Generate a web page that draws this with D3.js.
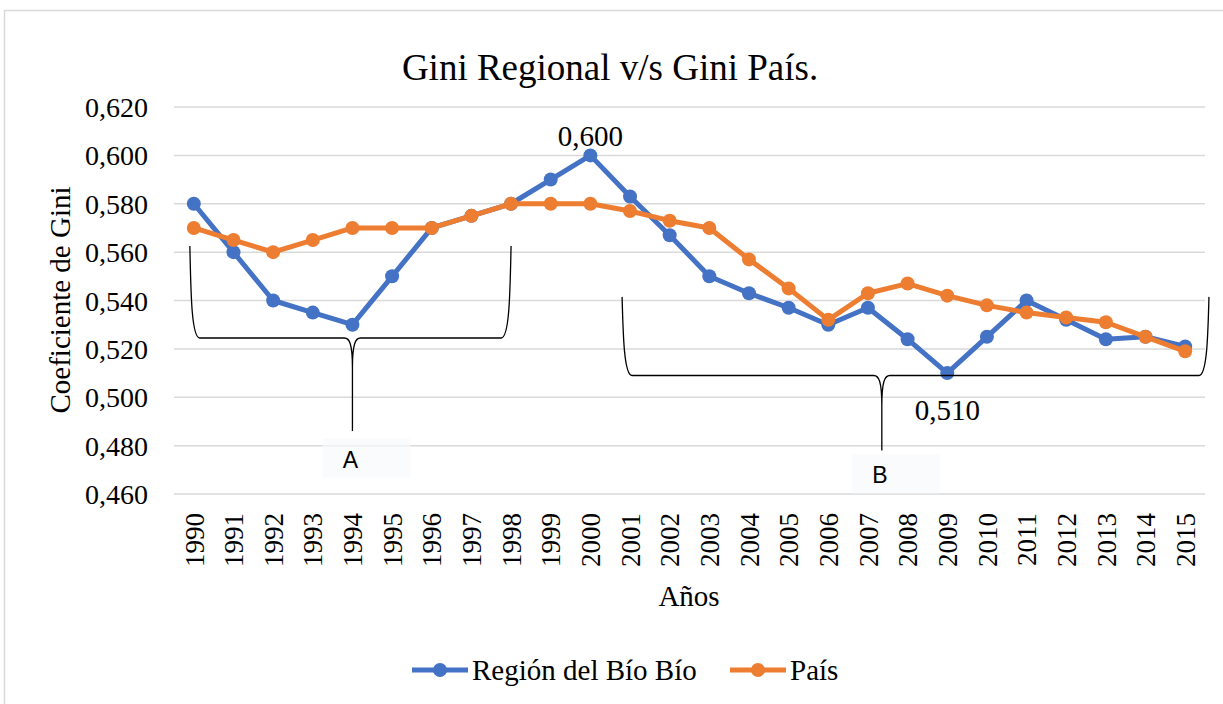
<!DOCTYPE html>
<html>
<head>
<meta charset="utf-8">
<script src="https://cdn.jsdelivr.net/npm/d3@7"></script>
<style>
  body { margin: 0; background: #fff; }
  svg { display: block; }
  text { font-family: "Liberation Serif", "Times New Roman", serif; fill: #000; }
</style>
</head>
<body>
<svg width="1223" height="704"></svg>
<script>
const years = [1990, 1991, 1992, 1993, 1994, 1995, 1996, 1997, 1998, 1999, 2000, 2001, 2002,
  2003, 2004, 2005, 2006, 2007, 2008, 2009, 2010, 2011, 2012, 2013, 2014, 2015];
const region = [0.580, 0.560, 0.540, 0.535, 0.530, 0.550, 0.570, 0.575, 0.580, 0.590, 0.600, 0.583, 0.567,
  0.550, 0.543, 0.537, 0.530, 0.537, 0.524, 0.510, 0.525, 0.540, 0.532, 0.524, 0.525, 0.521];
const pais = [0.570, 0.565, 0.560, 0.565, 0.570, 0.570, 0.570, 0.575, 0.580, 0.580, 0.580, 0.577, 0.573,
  0.570, 0.557, 0.545, 0.532, 0.543, 0.547, 0.542, 0.538, 0.535, 0.533, 0.531, 0.525, 0.519];
const yTicks = [0.46, 0.48, 0.50, 0.52, 0.54, 0.56, 0.58, 0.60, 0.62];
// labelled points: [year, value, text]
const labelled = [[2000, 0.600, "0,600"], [2009, 0.510, "0,510"]];
// braces drawn over the chart, in data units
const braces = [
  { from: 1989.9, to: 1998, tip: 1994, top: 0.5625, bar: 0.5245, end: 0.486, label: "A", labelVal: 0.475 },
  { from: 2000.8, to: 2015.6, tip: 2007.35, top: 0.5415, bar: 0.509, end: 0.478, label: "B", labelVal: 0.4685 }
];

const svg = d3.select("svg");
const fmt = v => d3.format(".3f")(v).replace(".", ",");

svg.append("rect")
  .attr("x", 4.5).attr("y", 10.5)
  .attr("width", 1230).attr("height", 700)
  .attr("fill", "#fff").attr("stroke", "#d9d9d9").attr("stroke-width", 1.5);

const x = d3.scalePoint().domain(years).range([174, 1205]).padding(0.5);
const y = d3.scaleLinear().domain([0.46, 0.62]).range([494, 107]);
// continuous x for annotations
const xc = d3.scaleLinear().domain([1990, 2015]).range([x(1990), x(2015)]);

svg.append("text")
  .attr("x", 610).attr("y", 80)
  .attr("text-anchor", "middle")
  .style("font-size", "37px")
  .text("Gini Regional v/s Gini País.");

// grid
svg.append("g")
  .selectAll("line")
  .data(yTicks)
  .join("line")
  .attr("x1", 174).attr("x2", 1205)
  .attr("y1", d => y(d)).attr("y2", d => y(d))
  .attr("stroke", "#d9d9d9").attr("stroke-width", 1.5);

const yAxis = svg.append("g")
  .attr("transform", "translate(160,0)")
  .call(d3.axisLeft(y).tickValues(yTicks).tickFormat(fmt).tickSize(0).tickPadding(0));
yAxis.select(".domain").remove();
yAxis.selectAll("text")
  .style("font-size", "28px")
  .attr("x", -12)
  .attr("dy", "0.34em");

const xAxis = svg.append("g")
  .attr("transform", "translate(0,494)")
  .call(d3.axisBottom(x).tickSize(0));
xAxis.select(".domain").remove();
xAxis.selectAll("text")
  .style("font-size", "27px")
  .attr("transform", "rotate(-90)")
  .attr("text-anchor", "end")
  .attr("x", -19)
  .attr("y", 0)
  .attr("dy", "0.34em");

svg.append("text")
  .attr("transform", "translate(70,300) rotate(-90)")
  .attr("text-anchor", "middle")
  .style("font-size", "29px")
  .text("Coeficiente de Gini");

svg.append("text")
  .attr("x", 689).attr("y", 606)
  .attr("text-anchor", "middle")
  .style("font-size", "29px")
  .text("Años");

// series
const series = [
  { name: "Región del Bío Bío", values: region, color: "#4472C4" },
  { name: "País", values: pais, color: "#ED7D31" }
];
const line = d3.line().x((d, i) => x(years[i])).y(d => y(d));

series.forEach(s => {
  const g = svg.append("g");
  g.append("path")
    .attr("d", line(s.values))
    .attr("fill", "none")
    .attr("stroke", s.color)
    .attr("stroke-width", 5)
    .attr("stroke-linejoin", "round");
  g.selectAll("circle")
    .data(s.values)
    .join("circle")
    .attr("cx", (d, i) => x(years[i]))
    .attr("cy", d => y(d))
    .attr("r", 7)
    .attr("fill", s.color);
});

// data labels
svg.selectAll(".dlabel")
  .data(labelled)
  .join("text")
  .attr("class", "dlabel")
  .attr("x", d => x(d[0]))
  .attr("y", d => d[0] === 2000 ? y(d[1]) - 9 : y(d[1]) + 47)
  .attr("text-anchor", "middle")
  .style("font-size", "29px")
  .text(d => d[2]);

// braces
braces.forEach(b => {
  const xl = xc(b.from), xr = xc(b.to), xt = xc(b.tip);
  const yt = y(b.top), yb = y(b.bar), ye = y(b.end);
  const path = `M${xl},${yt} C${xl + 1},${yb - 40} ${xl + 2},${yb} ${xl + 10},${yb}
    L${xt - 8},${yb} C${xt - 3},${yb} ${xt},${yb + 6} ${xt},${yb + 30} L${xt},${ye}
    M${xt},${yb + 30} C${xt},${yb + 6} ${xt + 3},${yb} ${xt + 8},${yb}
    L${xr - 10},${yb} C${xr - 2},${yb} ${xr - 1},${yb - 40} ${xr},${yt}`;
  svg.append("path")
    .attr("d", path)
    .attr("fill", "none")
    .attr("stroke", "#000")
    .attr("stroke-width", 1.3);
  svg.append("rect")
    .attr("x", xt - 30).attr("y", y(b.labelVal) - 19)
    .attr("width", 88).attr("height", 39)
    .attr("fill", "#f7f9fc").attr("opacity", 0.7);
  svg.append("text")
    .attr("x", xt - 2).attr("y", y(b.labelVal) + 10)
    .attr("text-anchor", "middle")
    .style("font-family", "'Liberation Sans', Arial, sans-serif")
    .style("font-size", "23px")
    .text(b.label);
});

// legend
const legend = svg.append("g").attr("transform", "translate(412,670)");
const legX = [0, 318];
series.forEach((s, i) => {
  const g = legend.append("g").attr("transform", `translate(${legX[i]},0)`);
  g.append("line").attr("x1", 0).attr("x2", 56).attr("stroke", s.color).attr("stroke-width", 5);
  g.append("circle").attr("cx", 28).attr("r", 7).attr("fill", s.color);
  g.append("text").attr("x", 60).attr("dy", "0.34em").style("font-size", "29px").text(s.name);
});
</script>
</body>
</html>
